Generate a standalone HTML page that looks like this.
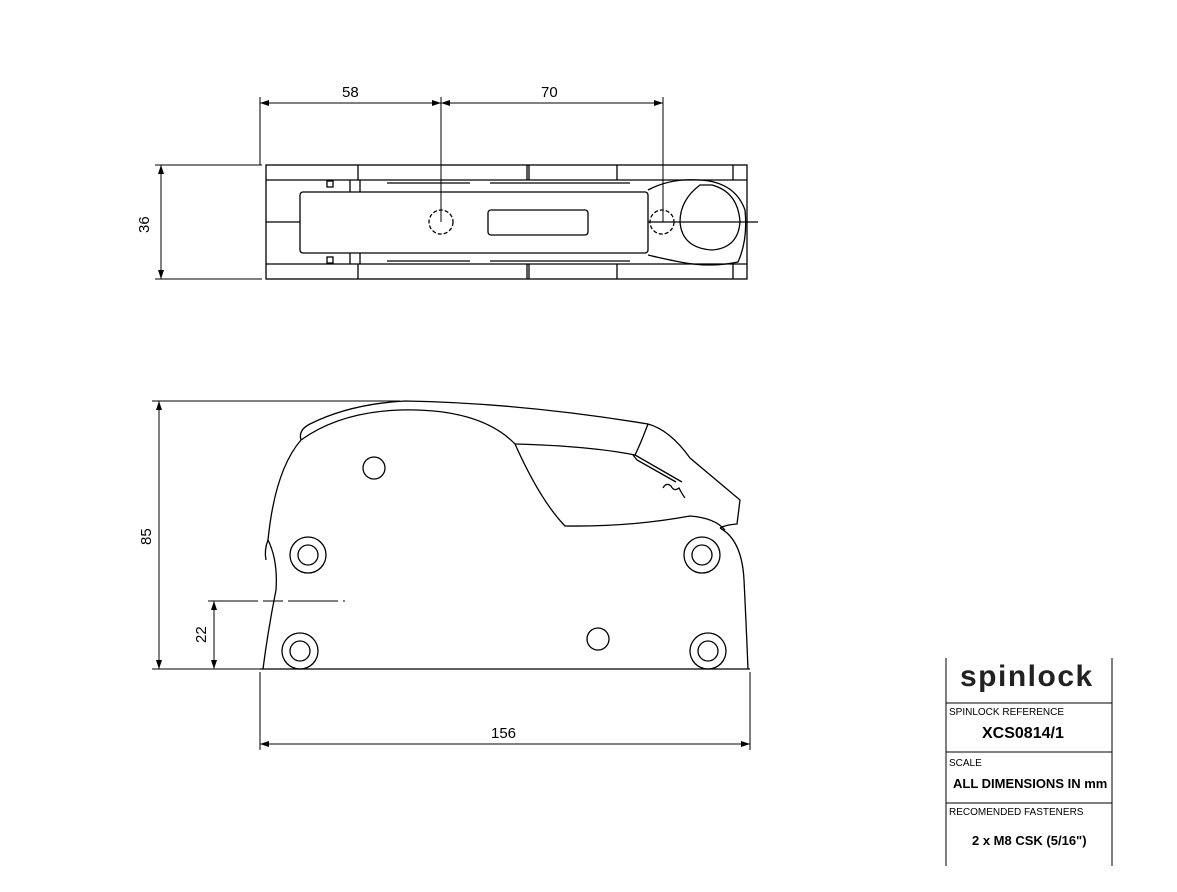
<!DOCTYPE html>
<html><head><meta charset="utf-8"><style>
body{margin:0;background:#fff;width:1177px;height:892px;overflow:hidden;font-family:"Liberation Sans",sans-serif}
svg{position:absolute;left:0;top:0}
.t{position:absolute;font-family:"Liberation Sans",sans-serif;color:#000}
</style></head><body>
<svg width="1177" height="892" viewBox="0 0 1177 892" fill="none" stroke="#000" stroke-width="1.3">
<g stroke-width="1">
<line x1="260" y1="97" x2="260" y2="165"/><line x1="441" y1="97" x2="441" y2="222"/><line x1="663" y1="97" x2="663" y2="222"/>
<line x1="260" y1="103" x2="663" y2="103"/>
<line x1="155" y1="165" x2="262" y2="165"/><line x1="155" y1="279" x2="262" y2="279"/><line x1="161" y1="165" x2="161" y2="279"/>
</g>
<g fill="#000" stroke="none">
<path d="M260 103 l9 -3 v6z"/><path d="M441 103 l-9 -3 v6z"/><path d="M441 103 l9 -3 v6z"/><path d="M663 103 l-9 -3 v6z"/>
<path d="M161 165 l-3 9 h6z"/><path d="M161 279 l-3 -9 h6z"/>
</g>
<rect x="266" y="165" width="481" height="114"/>
<line x1="266" y1="180" x2="747" y2="180"/><line x1="266" y1="264" x2="747" y2="264"/>
<rect x="300" y="192" width="348" height="61" rx="3"/>
<rect x="488" y="210" width="100" height="25" rx="3"/>
<circle cx="441" cy="222" r="12" stroke-dasharray="4 2"/>
<circle cx="662" cy="222" r="12" stroke-dasharray="4 2"/>
<path d="M648 190 Q670 178 700 180 Q735 182 745 210 Q748 240 738 262 Q710 268 680 262 Q660 258 648 255"/>
<path d="M700 185 Q680 200 680 222 Q682 248 712 250 Q738 248 740 222 Q738 192 712 185 Z"/>
<line x1="266" y1="222" x2="300" y2="222"/><line x1="648" y1="222" x2="758" y2="222"/>
<line x1="358" y1="165" x2="358" y2="180"/><line x1="527" y1="165" x2="527" y2="180"/><line x1="529" y1="165" x2="529" y2="180"/><line x1="617" y1="165" x2="617" y2="180"/><line x1="733" y1="165" x2="733" y2="180"/>
<line x1="358" y1="264" x2="358" y2="279"/><line x1="527" y1="264" x2="527" y2="279"/><line x1="529" y1="264" x2="529" y2="279"/><line x1="617" y1="264" x2="617" y2="279"/><line x1="733" y1="264" x2="733" y2="279"/>
<rect x="327" y="181" width="6" height="6"/><rect x="327" y="257" width="6" height="6"/>
<line x1="350" y1="180" x2="350" y2="192"/><line x1="360" y1="180" x2="360" y2="192"/>
<line x1="350" y1="253" x2="350" y2="264"/><line x1="360" y1="253" x2="360" y2="264"/>
<line x1="387" y1="183" x2="470" y2="183"/><line x1="490" y1="183" x2="630" y2="183"/>
<line x1="387" y1="261" x2="470" y2="261"/><line x1="490" y1="261" x2="630" y2="261"/>
<g stroke-width="1">
<line x1="152" y1="401" x2="400" y2="401"/><line x1="152" y1="669" x2="262" y2="669"/><line x1="159" y1="401" x2="159" y2="669"/>
<line x1="208" y1="601" x2="345" y2="601" stroke-dasharray="50 5 20 5"/><line x1="214" y1="601" x2="214" y2="669"/>
<line x1="260" y1="672" x2="260" y2="750"/><line x1="750" y1="672" x2="750" y2="750"/><line x1="260" y1="744" x2="750" y2="744"/>
</g>
<g fill="#000" stroke="none">
<path d="M159 401 l-3 9 h6z"/><path d="M159 669 l-3 -9 h6z"/>
<path d="M214 601 l-3 9 h6z"/><path d="M214 669 l-3 -9 h6z"/>
<path d="M260 744 l9 -3 v6z"/><path d="M750 744 l-9 -3 v6z"/>
</g>
<line x1="260" y1="669" x2="750" y2="669"/>
<path d="M301 440 Q298 430 310 424 Q350 404 405 401 Q520 403 648 424"/>
<path d="M301 440 Q340 412 400 410 Q480 408 515 444"/>
<path d="M515 444 Q590 446 635 455"/>
<path d="M515 444 Q540 500 565 526 Q630 527 690 516 Q715 518 725 530"/>
<path d="M648 424 Q670 430 690 458 L740 500 L737 524 Q725 525 720 528"/>
<path d="M648 424 Q640 445 635 455 L682 482 M633 455 L637 460 L676 482"/>
<path d="M663 488 q3 -6 8 -2 q3 6 8 2 q3 6 6 10"/>
<path d="M301 440 Q275 470 268 540 Q278 560 276 590 Q268 630 263 669"/>
<path d="M268 540 Q264 550 266 560"/>
<path d="M720 528 Q742 540 744 580 Q746 620 748 669"/>
<circle cx="374" cy="468" r="11"/>
<circle cx="598" cy="639" r="11"/>
<circle cx="308" cy="555" r="18"/><circle cx="308" cy="555" r="10"/>
<circle cx="702" cy="555" r="18"/><circle cx="702" cy="555" r="10"/>
<circle cx="300" cy="651" r="18"/><circle cx="300" cy="651" r="10"/>
<circle cx="708" cy="651" r="18"/><circle cx="708" cy="651" r="10"/>
<g stroke-width="1">
<line x1="946" y1="658" x2="946" y2="866"/><line x1="1112" y1="658" x2="1112" y2="866"/>
<line x1="946" y1="703" x2="1112" y2="703"/><line x1="946" y1="752" x2="1112" y2="752"/><line x1="946" y1="803" x2="1112" y2="803"/>
</g>
</svg>
<div class="t" style="left:342px;top:84px;font-size:15px">58</div>
<div class="t" style="left:541px;top:84px;font-size:15px">70</div>
<div class="t" style="left:491px;top:725px;font-size:15px">156</div>
<div class="t" style="left:136px;top:233px;font-size:15px;transform:rotate(-90deg);transform-origin:left top">36</div>
<div class="t" style="left:138px;top:545px;font-size:15px;transform:rotate(-90deg);transform-origin:left top">85</div>
<div class="t" style="left:193px;top:643px;font-size:15px;transform:rotate(-90deg);transform-origin:left top">22</div>
<div class="t" style="left:960px;top:660px;font-size:30px;font-weight:bold;color:#222;letter-spacing:1.5px">spinlock</div>
<div class="t" style="left:949px;top:707px;font-size:10px">SPINLOCK REFERENCE</div>
<div class="t" style="left:982px;top:725px;font-size:16px;font-weight:bold">XCS0814/1</div>
<div class="t" style="left:949px;top:758px;font-size:10px">SCALE</div>
<div class="t" style="left:953px;top:776px;font-size:13px;font-weight:bold">ALL DIMENSIONS IN mm</div>
<div class="t" style="left:949px;top:807px;font-size:10px">RECOMENDED FASTENERS</div>
<div class="t" style="left:972px;top:833px;font-size:13px;font-weight:bold">2 x M8 CSK (5/16")</div>
</body></html>
